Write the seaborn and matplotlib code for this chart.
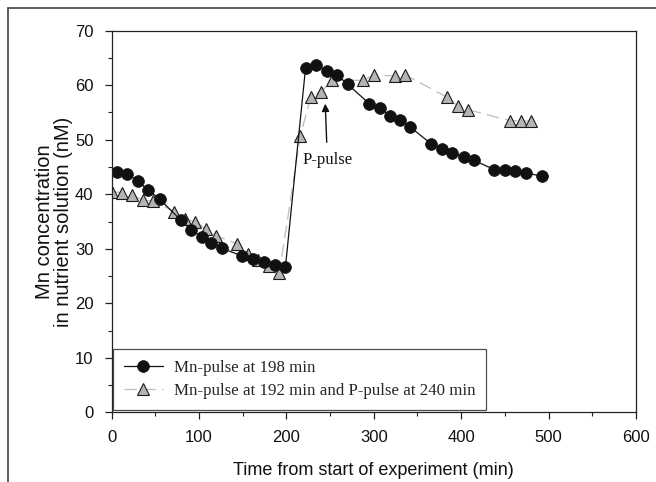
import matplotlib
matplotlib.use("Agg")
import matplotlib.pyplot as plt
from matplotlib.lines import Line2D
from matplotlib.ticker import MultipleLocator
import seaborn as sns
import pandas as pd

# Series 1: Mn-pulse at 198 min
mn_time = [6, 18, 30, 42, 55, 79, 91, 103, 114, 126, 149, 162, 175, 187, 199,
           222, 234, 246, 258, 270, 295, 307, 319, 330, 342, 366, 378, 390, 403,
           415, 438, 450, 462, 474, 493]
mn_conc = [44.1, 43.8, 42.4, 40.8, 39.1, 35.3, 33.5, 32.2, 31.0, 30.1, 28.7,
           28.1, 27.5, 27.1, 26.7, 63.2, 63.7, 62.6, 61.9, 60.2, 56.6, 55.8,
           54.4, 53.6, 52.3, 49.2, 48.3, 47.6, 46.8, 46.2, 44.5, 44.5, 44.2,
           43.9, 43.3]

# Series 2: Mn-pulse at 192 min and P-pulse at 240 min
mp_time = [0, 12, 24, 36, 48, 72, 84, 96, 108, 120, 144, 156, 168, 180, 192,
           216, 228, 240, 252, 288, 300, 324, 336, 384, 396, 408, 456, 468, 480]
mp_conc = [40.5, 40.3, 39.8, 38.9, 38.8, 36.8, 35.4, 35.0, 33.6, 32.4, 30.9,
           29.1, 28.0, 26.8, 25.6, 50.7, 57.9, 58.8, 60.9, 60.9, 61.9, 61.7,
           61.9, 57.8, 56.2, 55.5, 53.5, 53.5, 53.4]

labels = ["Mn-pulse at 198 min", "Mn-pulse at 192 min and P-pulse at 240 min"]

df1 = pd.DataFrame({"time": mn_time, "conc": mn_conc})
df2 = pd.DataFrame({"time": mp_time, "conc": mp_conc})

sns.set_style("ticks")
plt.rcParams["font.family"] = ["Liberation Sans", "DejaVu Sans"]

fig = plt.figure(figsize=(6.56, 4.82), dpi=100)
ax = fig.add_axes([111.5 / 656, 1 - 412.3 / 482, (636 - 111.5) / 656, (412.3 - 30.7) / 482])

sns.lineplot(data=df2, x="time", y="conc", ax=ax, estimator=None, sort=False,
             color="#bdbdbd", linewidth=0.9, dashes=False, linestyle=(0, (10, 5)),
             marker="^", markersize=8.5, markerfacecolor="#b4b4b4",
             markeredgecolor="#1a1a1a", markeredgewidth=0.8, label=labels[1])
sns.lineplot(data=df1, x="time", y="conc", ax=ax, estimator=None, sort=False,
             color="#111111", linewidth=0.9,
             marker="o", markersize=8.5, markerfacecolor="#111111",
             markeredgecolor="#111111", markeredgewidth=0.5, label=labels[0])

ax.set_xlim(0, 600)
ax.set_ylim(0, 70)
ax.xaxis.set_major_locator(MultipleLocator(100))
ax.xaxis.set_minor_locator(MultipleLocator(50))
ax.yaxis.set_major_locator(MultipleLocator(10))
ax.yaxis.set_minor_locator(MultipleLocator(5))
ax.tick_params(which="major", direction="out", length=5, width=0.9, colors="#222222",
               labelsize=12, labelcolor="#111111", pad=8)
ax.tick_params(which="minor", direction="out", length=3, width=0.8, colors="#222222")
for s in ax.spines.values():
    s.set_color("#222222")
    s.set_linewidth(0.9)

ax.set_xlabel("Time from start of experiment (min)", fontsize=13, color="#111111", labelpad=12)
ax.set_ylabel("Mn concentration\nin nutrient solution (nM)", fontsize=14.5,
              color="#111111", labelpad=1, linespacing=1.0)

ax.annotate("P-pulse", xy=(244.5, 56.6), xytext=(247, 46.2),
            ha="center", va="center", fontsize=12, family="Liberation Serif",
            color="#111111",
            arrowprops=dict(arrowstyle="-|>", color="#111111", lw=1.0,
                            mutation_scale=11, shrinkA=5, shrinkB=0))

handles, labs = ax.get_legend_handles_labels()
order = [labs.index(labels[0]), labs.index(labels[1])]
leg = ax.legend([handles[i] for i in order], [labs[i] for i in order],
                loc="lower left", bbox_to_anchor=(0.002, 0.006), borderaxespad=0,
                frameon=True, fancybox=False, edgecolor="#222222",
                prop={"family": "Liberation Serif", "size": 12.2},
                handlelength=2.35, handletextpad=0.6, labelspacing=0.42,
                borderpad=0.65)
leg.get_frame().set_linewidth(0.9)

# outer figure frame
fig.add_artist(Line2D([8 / 656, 8 / 656], [0, 1 - 8 / 482], transform=fig.transFigure,
                      color="#444444", linewidth=1.2))
fig.add_artist(Line2D([8 / 656, 1], [1 - 8 / 482, 1 - 8 / 482], transform=fig.transFigure,
                      color="#444444", linewidth=1.2))

fig.savefig("out.png", dpi=100)
